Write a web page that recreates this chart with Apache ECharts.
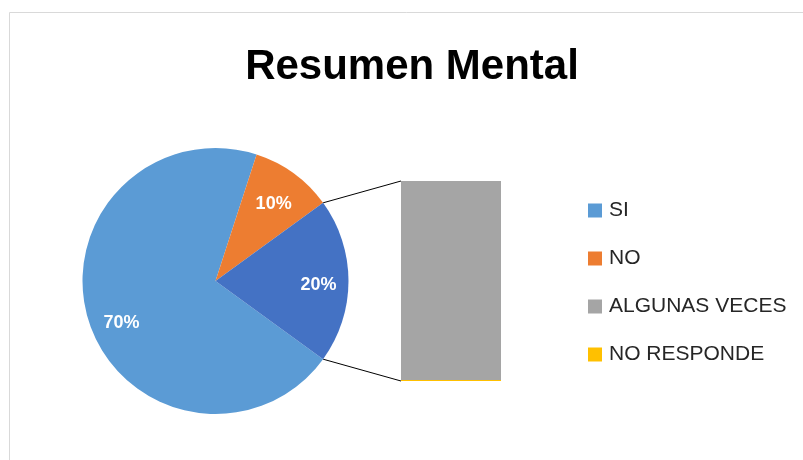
<!DOCTYPE html>
<html>
<head>
<meta charset="utf-8">
<script src="https://cdn.jsdelivr.net/npm/echarts@6/dist/echarts.min.js"></script>
<style>
html,body{margin:0;padding:0;background:#fff;}
#chart{width:803px;height:460px;}
</style>
</head>
<body>
<div id="chart"></div>
<script>
// ---- data ----
var titleText = 'Resumen Mental';
var pieNames = ['SI', 'NO'];
var pieValues = [70, 10];
var barNames = ['ALGUNAS VECES', 'NO RESPONDE'];
var barValues = [20, 0];
var otherName = 'Otros';
var legendNames = ['SI', 'NO', 'ALGUNAS VECES', 'NO RESPONDE'];

// ---- styles ----
var pieColors = ['#5B9BD5', '#ED7D31'];
var otherColor = '#4472C4';
var barColors = ['#A5A5A5', '#FFC000'];
var labelOffsets = [[5, 10], [-3, 7], [-1, 4]]; // SI, NO, other
var FONT = 'Liberation Sans';

var otherValue = barValues.reduce(function (a, b) { return a + b; }, 0);
var total = pieValues.reduce(function (a, b) { return a + b; }, 0) + otherValue;
var otherAngle = otherValue / total * 360;
var pieStart = (-otherAngle / 2 + 360) % 360;
var pieData = pieNames.map(function (n, i) {
  return { name: n, value: pieValues[i], itemStyle: { color: pieColors[i] } };
});
pieData.push({ name: otherName, value: otherValue, itemStyle: { color: otherColor } });

var cx = 215.5, cy = 281, R = 133;
var gridLeft = 401, gridTop = 181, gridW = 100, gridH = 200;

var chart = echarts.init(document.getElementById('chart'), null, { renderer: 'canvas' });

var barSeries = [];
[1, 0].forEach(function (idx) {
  barSeries.push({
    type: 'bar',
    name: barNames[idx],
    data: [barValues[idx]],
    stack: 'bar',
    barWidth: '100%',
    barMinHeight: idx === 1 ? 1 : 0,
    z: idx === 1 ? 3 : 2,
    itemStyle: { color: barColors[idx] },
    label: { show: false },
    silent: true
  });
});

var option = {
  animation: false,
  backgroundColor: '#fff',
  title: {
    text: titleText,
    left: 407,
    top: 41,
    textAlign: 'center',
    textStyle: { fontFamily: FONT, fontWeight: 'bold', fontSize: 42, color: '#000' }
  },
  legend: {
    data: legendNames.map(function (n) { return { name: n, icon: 'rect' }; }),
    orient: 'vertical',
    left: 588,
    top: 200,
    padding: 0,
    itemWidth: 14,
    itemHeight: 14,
    itemGap: 27,
    selectedMode: false,
    textStyle: { fontFamily: FONT, fontSize: 21, color: '#262626', lineHeight: 21, padding: [0, 0, 0, 2] }
  },
  grid: { left: gridLeft, top: gridTop, width: gridW, height: gridH, containLabel: false },
  xAxis: { type: 'category', data: [''], show: false, boundaryGap: true },
  yAxis: { type: 'value', min: 0, max: otherValue, show: false },
  series: [
    {
      type: 'pie',
      name: 'main',
      center: [cx, cy],
      radius: [0, R],
      startAngle: pieStart,
      clockwise: true,
      avoidLabelOverlap: false,
      data: pieData,
      label: { show: false },
      labelLine: { show: false },
      itemStyle: { borderWidth: 0 },
      silent: true
    },
    {
      type: 'pie',
      name: 'labels',
      center: [cx, cy],
      radius: [69, R],
      startAngle: pieStart,
      clockwise: true,
      avoidLabelOverlap: false,
      data: pieData.map(function (d, i) {
        return { name: d.name, value: d.value, itemStyle: { color: 'rgba(0,0,0,0)' }, label: { offset: labelOffsets[i] } };
      }),
      label: {
        show: true,
        position: 'inside',
        formatter: '{d}%',
        color: '#fff',
        fontFamily: FONT,
        fontWeight: 'bold',
        fontSize: 18
      },
      labelLine: { show: false },
      silent: true,
      z: 3
    }
  ].concat(barSeries)
};
chart.setOption(option);

var half = otherAngle / 2 * Math.PI / 180;
var p1 = [cx + R * Math.cos(half), cy - R * Math.sin(half)];
var p2 = [cx + R * Math.cos(half), cy + R * Math.sin(half)];
var topY = chart.convertToPixel({ yAxisIndex: 0 }, otherValue);
var botY = chart.convertToPixel({ yAxisIndex: 0 }, 0);
chart.setOption({
  graphic: [
    { type: 'rect', shape: { x: 9.5, y: 12.5, width: 1000, height: 1000 }, style: { fill: 'none', stroke: '#D9D9D9', lineWidth: 1 }, z: -10, silent: true },
    { type: 'line', shape: { x1: p1[0], y1: p1[1], x2: gridLeft, y2: topY }, style: { stroke: '#000', lineWidth: 1 }, z: 1, silent: true },
    { type: 'line', shape: { x1: p2[0], y1: p2[1], x2: gridLeft, y2: botY }, style: { stroke: '#000', lineWidth: 1 }, z: 1, silent: true }
  ]
});
</script>
</body>
</html>
